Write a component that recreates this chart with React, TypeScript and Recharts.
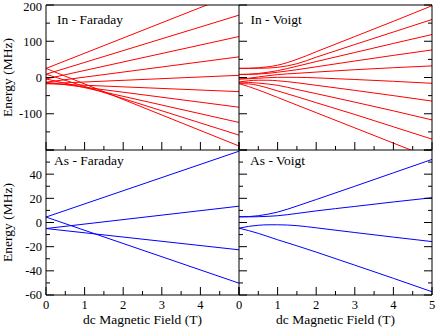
import React from "react";
import { Customized, Line, LineChart, XAxis, YAxis } from "recharts";

const W = 436;
const H = 327;
const FONT = '"Liberation Serif", "Times New Roman", serif';

// field values (T)
const fieldFaraday = [0, 5];
const fieldVoigt = [0, 0.25, 0.5, 0.75, 1, 1.5, 2, 3, 4, 5];

// In (I = 9/2), straight lines in Faraday geometry
const inFaradayStart = [25, 9, -4, -13, -17, -17, -13, -4, 9, 25];
const inFaradayEnd = [235, 172, 113, 57, 6, -39, -82, -124, -159, -189];

// In, Voigt geometry, one row per level, read at fieldVoigt
const inVoigtLevels = [
  [25.2, 25.5, 26.8, 29.5, 34, 50, 71, 113, 155, 198],
  [25.2, 25.2, 25.4, 26, 28, 38, 56, 91, 125.5, 160],
  [8.4, 9, 11, 14.5, 19, 31, 44, 69, 94, 118.5],
  [8.4, 8.6, 9.5, 11.5, 14.5, 21.5, 29.5, 45.5, 61, 76],
  [-4.2, -2, 1.5, 5, 8, 11.5, 15, 21.5, 27, 32],
  [-4.2, -3.5, -2, -0.5, 0.5, 0.5, -1, -5.5, -10.5, -16],
  [-12.6, -9, -7.5, -7.5, -9, -14.5, -21.5, -35.5, -50, -65],
  [-12.6, -13.5, -15.5, -18, -21.5, -33, -44.5, -68, -92, -117],
  [-16.8, -17.5, -22, -29, -37, -53, -69.5, -102, -136, -170],
  [-16.8, -25, -34.5, -44.5, -55, -76, -97, -139, -181, -223],
];

// As (I = 3/2)
const asFaradayStart = [4.5, -5, -5, 4.5];
const asFaradayEnd = [59, 13.5, -22.6, -50.2];

const asVoigtLevels = [
  [4.7, 4.9, 5.6, 6.9, 8.6, 13.6, 19, 30, 41.1, 52.2],
  [4.7, 4.7, 4.8, 5.1, 5.6, 7.5, 9.6, 13.3, 17, 20.5],
  [-4.7, -3.2, -2.3, -1.9, -1.9, -2.6, -4.4, -8.3, -12.1, -15.8],
  [-4.7, -6.7, -9, -11.6, -14.3, -19.3, -24.5, -35.3, -46.2, -57.3],
];

// ticks
const fieldTicks = [0, 0.5, 1, 1.5, 2, 2.5, 3, 3.5, 4, 4.5, 5];
const inTicks = [-200, -150, -100, -50, 0, 50, 100, 150, 200];
const asTicks = [-60, -50, -40, -30, -20, -10, 0, 10, 20, 30, 40, 50, 60];

type Pt = { b: number; e: number };

const straight = (start: number[], end: number[]): Pt[][] =>
  start.map((s, i) => [
    { b: fieldFaraday[0], e: s },
    { b: fieldFaraday[1], e: end[i] },
  ]);

const curved = (levels: number[][]): Pt[][] =>
  levels.map((row) => fieldVoigt.map((b, i) => ({ b, e: row[i] })));

const isMajor = (v: number, step: number) => Math.abs(v % step) < 1e-6;

const textStyle = { fontFamily: FONT, fill: "#000" };
const TICK_FS = 12.5;

function LeftTick(props: any) {
  const { x, y, payload, major, labels, hidden } = props;
  const v = payload.value;
  const big = isMajor(v, major);
  // keep the topmost label inside the picture
  const base = Math.max(y + 0.35 * TICK_FS, 0.9 * TICK_FS);
  return (
    <g>
      <line x1={x} x2={x + (big ? 8 : 4)} y1={y} y2={y} stroke="#000" />
      {labels && big && !hidden.includes(v) && (
        <text
          x={x - 4}
          y={base}
          textAnchor="end"
          fontSize={TICK_FS}
          style={textStyle}
        >
          {v}
        </text>
      )}
    </g>
  );
}

function RightTick(props: any) {
  const { x, y, payload, major } = props;
  const big = isMajor(payload.value, major);
  return <line x1={x} x2={x - (big ? 8 : 4)} y1={y} y2={y} stroke="#000" />;
}

function BottomTick(props: any) {
  const { x, y, payload, labels, hidden } = props;
  const v = payload.value;
  const big = isMajor(v, 1);
  return (
    <g>
      <line x1={x} x2={x} y1={y} y2={y - (big ? 8 : 4)} stroke="#000" />
      {labels && big && !hidden.includes(v) && (
        <text
          x={x}
          y={y + 13.5}
          textAnchor="middle"
          fontSize={TICK_FS}
          style={textStyle}
        >
          {v}
        </text>
      )}
    </g>
  );
}

type PanelProps = {
  title: string;
  titleX: number;
  titleY: number;
  series: Pt[][];
  color: string;
  yDomain: [number, number];
  yTicks: number[];
  yMajor: number;
  yHidden: number[];
  yLabels: boolean;
  xLabels: boolean;
  xHidden: number[];
  right: boolean;
  top: boolean;
  curve: "linear" | "monotone";
  margin: { top: number; right: number; bottom: number; left: number };
  extra?: React.ReactNode;
};

function Panel(p: PanelProps) {
  return (
    <div style={{ position: "absolute", left: 0, top: 0 }}>
      <LineChart width={W} height={H} margin={p.margin}>
        <XAxis
          dataKey="b"
          type="number"
          domain={[0, 5]}
          ticks={fieldTicks}
          interval={0}
          height={1}
          tickSize={0}
          tickMargin={0}
          tickLine={false}
          axisLine={{ stroke: "#000" }}
          tick={(t: any) => (
            <BottomTick {...t} labels={p.xLabels} hidden={p.xHidden} />
          )}
        />
        {p.top && (
          <XAxis
            xAxisId="top"
            orientation="top"
            type="number"
            domain={[0, 5]}
            height={1}
            tick={false}
            tickLine={false}
            axisLine={{ stroke: "#000" }}
          />
        )}
        <YAxis
          type="number"
          domain={p.yDomain}
          allowDataOverflow
          ticks={p.yTicks}
          interval={0}
          width={1}
          tickSize={0}
          tickMargin={0}
          tickLine={false}
          axisLine={{ stroke: "#000" }}
          tick={(t: any) => (
            <LeftTick
              {...t}
              major={p.yMajor}
              labels={p.yLabels}
              hidden={p.yHidden}
            />
          )}
        />
        {p.right && (
          <YAxis
            yAxisId="right"
            orientation="right"
            type="number"
            domain={p.yDomain}
            allowDataOverflow
            ticks={p.yTicks}
            interval={0}
            width={1}
            tickSize={0}
            tickMargin={0}
            tickLine={false}
            axisLine={{ stroke: "#000" }}
            tick={(t: any) => <RightTick {...t} major={p.yMajor} />}
          />
        )}
        {p.series.map((d, i) => (
          <Line
            key={i}
            data={d}
            dataKey="e"
            type={p.curve}
            stroke={p.color}
            strokeWidth={1}
            dot={false}
            activeDot={false}
            isAnimationActive={false}
          />
        ))}
        <Customized
          component={
            <g>
              <text x={p.titleX} y={p.titleY} fontSize={13.5} style={textStyle}>
                {p.title}
              </text>
              {p.extra}
            </g>
          }
        />
      </LineChart>
    </div>
  );
}

const energyLabel = (cy: number) => (
  <text
    x={12}
    y={cy}
    fontSize={13.5}
    textAnchor="middle"
    style={textStyle}
    transform={`rotate(-90, 12, ${cy})`}
  >
    Energy (MHz)
  </text>
);

const fieldLabel = (cx: number) => (
  <text x={cx} y={323.5} fontSize={13.5} textAnchor="middle" style={textStyle}>
    dc Magnetic Field (T)
  </text>
);

export default function App() {
  return (
    <div
      style={{
        position: "absolute",
        left: 0,
        top: 0,
        width: W,
        height: H,
        background: "#fff",
      }}
    >
      <Panel
        title="In - Faraday"
        titleX={57}
        titleY={23.5}
        series={straight(inFaradayStart, inFaradayEnd)}
        color="#ff0000"
        yDomain={[-200, 200]}
        yTicks={inTicks}
        yMajor={100}
        yHidden={[-200]}
        yLabels
        xLabels={false}
        xHidden={[]}
        right={false}
        top
        curve="linear"
        margin={{ top: 4, right: 197, bottom: 176, left: 45 }}
        extra={energyLabel(77.5)}
      />
      <Panel
        title="In - Voigt"
        titleX={250.5}
        titleY={23.5}
        series={curved(inVoigtLevels)}
        color="#ff0000"
        yDomain={[-200, 200]}
        yTicks={inTicks}
        yMajor={100}
        yHidden={[]}
        yLabels={false}
        xLabels={false}
        xHidden={[]}
        right
        top
        curve="monotone"
        margin={{ top: 4, right: 3, bottom: 176, left: 238 }}
      />
      <Panel
        title="As - Faraday"
        titleX={54}
        titleY={165}
        series={straight(asFaradayStart, asFaradayEnd)}
        color="#0000ff"
        yDomain={[-60, 60]}
        yTicks={asTicks}
        yMajor={20}
        yHidden={[60]}
        yLabels
        xLabels
        xHidden={[5]}
        right={false}
        top={false}
        curve="linear"
        margin={{ top: 150, right: 197, bottom: 31, left: 45 }}
        extra={
          <>
            {energyLabel(222.5)}
            {fieldLabel(142.5)}
          </>
        }
      />
      <Panel
        title="As - Voigt"
        titleX={250}
        titleY={165}
        series={curved(asVoigtLevels)}
        color="#0000ff"
        yDomain={[-60, 60]}
        yTicks={asTicks}
        yMajor={20}
        yHidden={[]}
        yLabels={false}
        xLabels
        xHidden={[]}
        right
        top={false}
        curve="monotone"
        margin={{ top: 150, right: 3, bottom: 31, left: 238 }}
        extra={fieldLabel(335.5)}
      />
    </div>
  );
}
